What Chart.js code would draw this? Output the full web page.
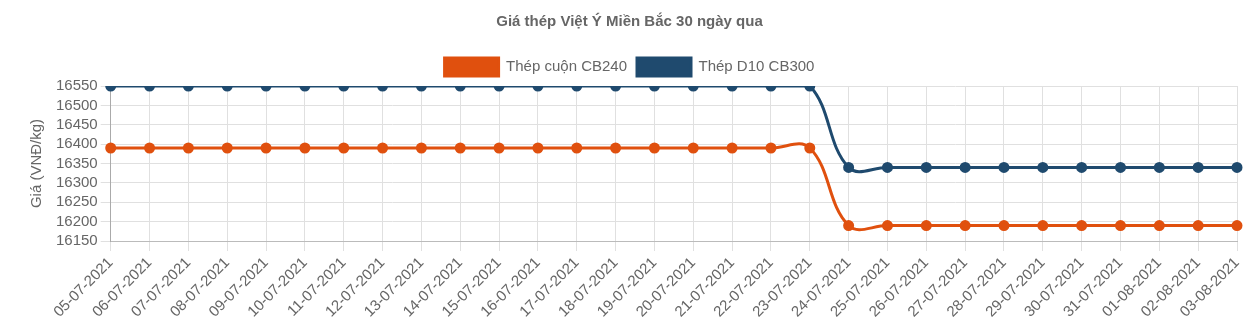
<!DOCTYPE html>
<html lang="vi">
<head>
    <meta charset="UTF-8">
    <title>Giá thép Việt Ý Miền Bắc</title>
    <script src="https://cdn.jsdelivr.net/npm/chart.js"></script>
    <style>
        html, body { margin: 0; padding: 0; background: #fff; }
        #chartContainer { width: 1257px; height: 328px; }
    </style>
</head>
<body>
<div id="chartContainer">
    <canvas id="chartCanvas"></canvas>
</div>
<script>
    let ngay = ["05-07-2021", "06-07-2021", "07-07-2021", "08-07-2021", "09-07-2021", "10-07-2021",
        "11-07-2021", "12-07-2021", "13-07-2021", "14-07-2021", "15-07-2021", "16-07-2021",
        "17-07-2021", "18-07-2021", "19-07-2021", "20-07-2021", "21-07-2021", "22-07-2021",
        "23-07-2021", "24-07-2021", "25-07-2021", "26-07-2021", "27-07-2021", "28-07-2021",
        "29-07-2021", "30-07-2021", "31-07-2021", "01-08-2021", "02-08-2021", "03-08-2021"];

    let thepCuon = [16390, 16390, 16390, 16390, 16390, 16390, 16390, 16390, 16390, 16390,
        16390, 16390, 16390, 16390, 16390, 16390, 16390, 16390, 16390, 16190,
        16190, 16190, 16190, 16190, 16190, 16190, 16190, 16190, 16190, 16190];

    let thepD10 = [16550, 16550, 16550, 16550, 16550, 16550, 16550, 16550, 16550, 16550,
        16550, 16550, 16550, 16550, 16550, 16550, 16550, 16550, 16550, 16340,
        16340, 16340, 16340, 16340, 16340, 16340, 16340, 16340, 16340, 16340];

    let yMin = 16150, yMax = 16550, yStep = 50;

    let fontChu = "'Liberation Sans', Arial, sans-serif";

    let ctx = document.getElementById("chartCanvas").getContext("2d");
    let chart = new Chart(ctx, {
        type: "line",
        data: {
            labels: ngay,
            datasets: [
                {
                    label: "Thép cuộn CB240",
                    data: thepCuon,
                    borderColor: "#e0500e",
                    backgroundColor: "#e0500e",
                    borderWidth: 3,
                    pointRadius: 4,
                    tension: 0.4,
                    fill: false
                },
                {
                    label: "Thép D10 CB300",
                    data: thepD10,
                    borderColor: "#1f4a6e",
                    backgroundColor: "#1f4a6e",
                    borderWidth: 3,
                    pointRadius: 4,
                    tension: 0.4,
                    fill: false
                }
            ]
        },
        options: {
            responsive: true,
            maintainAspectRatio: false,
            animation: false,
            layout: { padding: { left: 22, right: 20, top: 0, bottom: 4 } },
            plugins: {
                title: {
                    display: true,
                    text: "Giá thép Việt Ý Miền Bắc 30 ngày qua",
                    color: "#666",
                    font: { family: fontChu, size: 15, weight: "bold" },
                    padding: { top: 13, bottom: 17 }
                },
                legend: {
                    labels: {
                        color: "#666",
                        boxWidth: 54,
                        boxHeight: 18,
                        font: { family: fontChu, size: 15 }
                    }
                }
            },
            scales: {
                x: {
                    ticks: {
                        color: "#666",
                        minRotation: 45,
                        maxRotation: 45,
                        autoSkip: false,
                        font: { family: fontChu, size: 15 }
                    },
                    grid: { color: "#e0e0e0", tickLength: 10 },
                    border: { color: "#bbb" }
                },
                y: {
                    min: yMin,
                    max: yMax,
                    ticks: {
                        stepSize: yStep,
                        autoSkip: false,
                        color: "#666",
                        font: { family: fontChu, size: 15 },
                        callback: function(v) { return v; }
                    },
                    grid: { color: "#e0e0e0", tickLength: 10 },
                    border: { color: "#aaa" },
                    title: {
                        display: true,
                        text: "Giá (VNĐ/kg)",
                        color: "#666",
                        padding: { top: 6, bottom: 7 },
                        font: { family: fontChu, size: 15 }
                    }
                }
            }
        }
    });
</script>
</body>
</html>
